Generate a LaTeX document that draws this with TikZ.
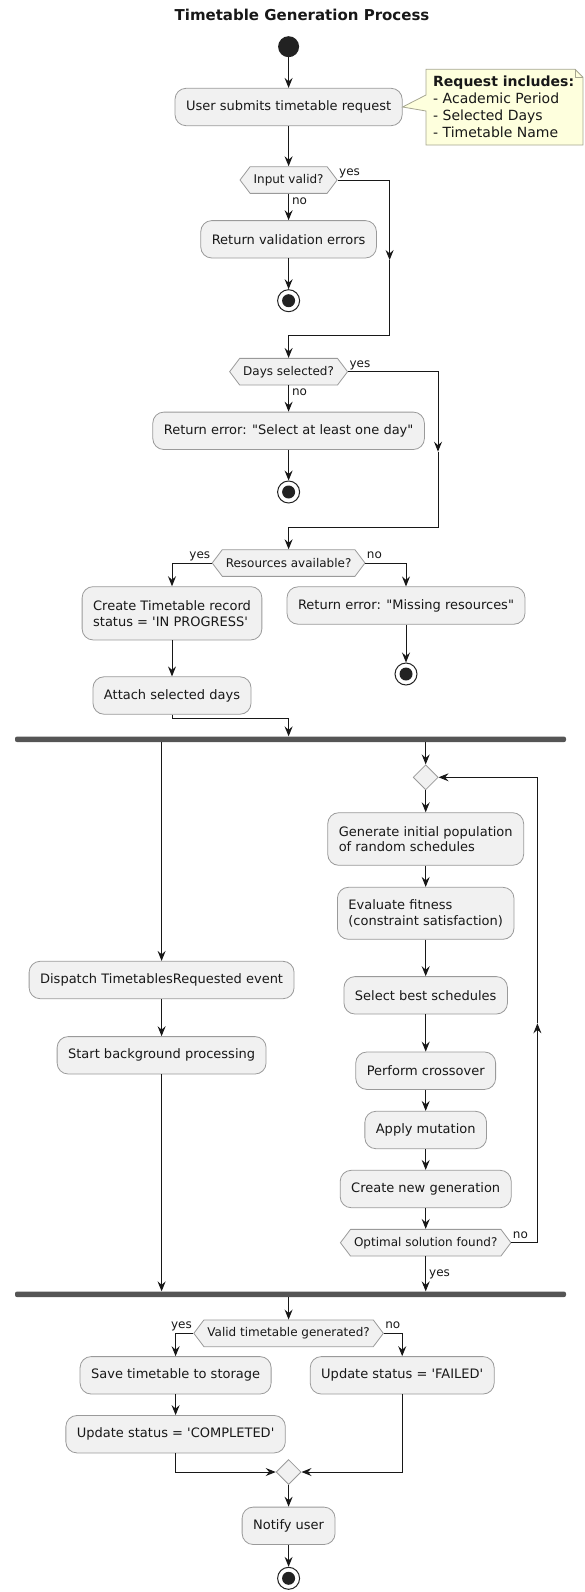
\documentclass[tikz,border=0pt]{standalone}
\usepackage{fontspec}
\setmainfont{DejaVu Sans}
\usetikzlibrary{arrows.meta, positioning, calc, shapes.geometric, shapes.symbols}

\definecolor{actfill}{HTML}{F1F1F1}
\definecolor{actline}{HTML}{9A9A9A}
\definecolor{flowline}{HTML}{181818}
\definecolor{barfill}{HTML}{555555}
\definecolor{notefill}{HTML}{FEFFDD}
\definecolor{noteline}{HTML}{A6A691}
\definecolor{dotfill}{HTML}{222222}

\begin{document}
\begin{tikzpicture}[>={Stealth[length=10pt, width=8pt, inset=3.5pt]}, x=1pt, y=-1pt,
  action/.style={rectangle, rounded corners=11pt, draw=actline, line width=0.8pt, fill=actfill,
    inner xsep=11pt, inner ysep=0pt, minimum height=37.4pt, font=\fontsize{13}{15.7}\selectfont, text=flowline},
  decision/.style={signal, signal to=east and west, signal pointer angle=106, draw=actline, line width=0.8pt,
    fill=actfill, inner xsep=3.5pt, inner ysep=0pt, minimum height=26.7pt, font=\fontsize{12}{14}\selectfont, text=flowline},
  merge/.style={diamond, draw=actline, line width=0.8pt, fill=actfill, minimum size=25pt, inner sep=0pt},
  startdot/.style={circle, fill=dotfill, minimum size=21pt, inner sep=0pt},
  stopdot/.style={circle, draw=dotfill, line width=1pt, fill=white, minimum size=22pt, inner sep=0pt,
    path picture={\fill[dotfill] (path picture bounding box.center) circle (6.5pt);}},
  forkbar/.style={rectangle, rounded corners=2pt, fill=barfill, minimum width=551pt, minimum height=5.5pt, inner sep=0pt},
  flow/.style={->, draw=flowline, line width=1pt},
  lbl/.style={font=\fontsize{12}{14}\selectfont, text=flowline, inner sep=1pt, text height=9pt, text depth=3pt}]
  \useasboundingbox (0,0) rectangle (584,1592);

  \node[font=\bfseries\fontsize{15}{18}\selectfont, text=flowline] (title) at (302,15) {Timetable Generation Process};

  \node[startdot] (start) at (288.6,46.7) {};
  \node[action] (submit) at (288.6,107) {User submits timetable request};
  \draw[noteline, fill=notefill, line width=0.8pt] (426,69.3) -- (575,69.3) -- (583,77.3) -- (583,145) -- (426,145)
    -- (426,111) -- (submit.east) -- (426,95) -- cycle;
  \draw[noteline, line width=0.8pt] (575,69.3) -- (575,77.3) -- (583,77.3);
  \node[font=\fontsize{14}{16.9}\selectfont, align=left, anchor=north west, inner sep=0pt, text=flowline] (req) at (433,76)
    {\textbf{Request includes:}\\- Academic Period\\- Selected Days\\- Timetable Name};

  \node[decision] (valid) at (288.6,180) {Input valid?};
  \node[action] (valerr) at (288.6,239.3) {Return validation errors};
  \node[stopdot] (stopa) at (288.6,300.7) {};
  \node[decision] (days) at (288.6,371.7) {Days selected?};
  \node[action] (dayerr) at (288.6,430.8) {Return error: \textquotedbl Select at least one day\textquotedbl};
  \node[stopdot] (stopb) at (288.6,492) {};
  \node[decision] (res) at (288.6,563) {Resources available?};
  \node[action, align=left, minimum height=53.3pt] (create) at (172,613.3) {Create Timetable record\\status = \textquotesingle IN PROGRESS\textquotesingle};
  \node[action] (reserr) at (406,605.5) {Return error: \textquotedbl Missing resources\textquotedbl};
  \node[stopdot] (stopc) at (406,674) {};
  \node[action] (attach) at (172,695.5) {Attach selected days};

  \node[forkbar] (fork) at (290.5,739.3) {};
  \node[action] (dispatch) at (161.6,980) {Dispatch TimetablesRequested event};
  \node[action] (startbg) at (161.6,1055.3) {Start background processing};
  \node[merge] (loopm) at (425.7,777.3) {};
  \node[action, align=left, minimum height=52.6pt] (genpop) at (425.7,839) {Generate initial population\\of random schedules};
  \node[action, align=left, minimum height=52pt] (evalfit) at (425.7,913.3) {Evaluate fitness\\(constraint satisfaction)};
  \node[action] (selbest) at (425.7,995.3) {Select best schedules};
  \node[action] (cross) at (425.7,1070.7) {Perform crossover};
  \node[action] (mutate) at (425.7,1130) {Apply mutation};
  \node[action] (newgen) at (425.7,1189) {Create new generation};
  \node[decision] (optimal) at (425.7,1242.7) {Optimal solution found?};
  \node[forkbar] (join) at (290.5,1294.3) {};

  \node[decision] (gen) at (288.6,1333.3) {Valid timetable generated?};
  \node[action] (save) at (175.6,1375.3) {Save timetable to storage};
  \node[action] (failed) at (402.2,1375.3) {Update status = \textquotesingle FAILED\textquotesingle};
  \node[action] (completed) at (175.6,1434.2) {Update status = \textquotesingle COMPLETED\textquotesingle};
  \node[merge] (mergeb) at (288.6,1472) {};
  \node[action] (notify) at (288.6,1525.8) {Notify user};
  \node[stopdot] (stopd) at (288.6,1578.3) {};

  \coordinate (arra) at (389.6,260);
  \coordinate (arrb) at (438,451.7);
  \coordinate (arrc) at (537.4,1023.3);

  \draw[flow] (start) -- (submit);
  \draw[flow] (submit) -- (valid.north);
  \draw[flow] (valid.south) -- (valerr.north) node[lbl, pos=0, anchor=north west, xshift=2pt] (validno) {no};
  \draw[flow] (valerr) -- (stopa);
  \draw[flow] (valid.east) -| (arra) node[lbl, pos=0, anchor=south west] (validyes) {yes};
  \draw[flow] (arra) |- ($(days.north)+(0,-22.3)$) -- (days.north);
  \draw[flow] (days.south) -- (dayerr.north) node[lbl, pos=0, anchor=north west, xshift=2pt] (daysno) {no};
  \draw[flow] (dayerr) -- (stopb);
  \draw[flow] (days.east) -| (arrb) node[lbl, pos=0, anchor=south west] (daysyes) {yes};
  \draw[flow] (arrb) |- ($(res.north)+(0,-21.7)$) -- (res.north);
  \draw[flow] (res.west) -| (create.north) node[lbl, pos=0, anchor=south east] (resyes) {yes};
  \draw[flow] (res.east) -| (reserr.north) node[lbl, pos=0, anchor=south west] (resno) {no};
  \draw[flow] (reserr) -- (stopc);
  \draw[flow] (create) -- (attach);
  \draw[flow] (attach.south) -- ++(0,4) -| (fork.north -| submit.south);

  \draw[flow] (fork.south -| dispatch.north) -- (dispatch.north);
  \draw[flow] (dispatch) -- (startbg);
  \draw[flow] (startbg.south) -- (join.north -| startbg.south);
  \draw[flow] (fork.south -| loopm.north) -- (loopm.north);
  \draw[flow] (loopm) -- (genpop);
  \draw[flow] (genpop) -- (evalfit);
  \draw[flow] (evalfit) -- (selbest);
  \draw[flow] (selbest) -- (cross);
  \draw[flow] (cross) -- (mutate);
  \draw[flow] (mutate) -- (newgen);
  \draw[flow] (newgen) -- (optimal.north);
  \draw[flow] (optimal.east) -| (arrc) node[lbl, pos=0, anchor=south west] (optno) {no};
  \draw[flow] (arrc) |- (loopm.east);
  \draw[flow] (optimal.south) -- (join.north -| optimal.south) node[lbl, midway, anchor=west, xshift=2pt] (optyes) {yes};

  \draw[flow] (join.south -| submit.south) -- (gen.north);
  \draw[flow] (gen.west) -| (save.north) node[lbl, pos=0, anchor=south east] (genyes) {yes};
  \draw[flow] (gen.east) -| (failed.north) node[lbl, pos=0, anchor=south west] (genno) {no};
  \draw[flow] (save) -- (completed);
  \draw[flow] (completed.south) |- (mergeb.west);
  \draw[flow] (failed.south) |- (mergeb.east);
  \draw[flow] (mergeb) -- (notify);
  \draw[flow] (notify) -- (stopd);
\end{tikzpicture}
\end{document}
